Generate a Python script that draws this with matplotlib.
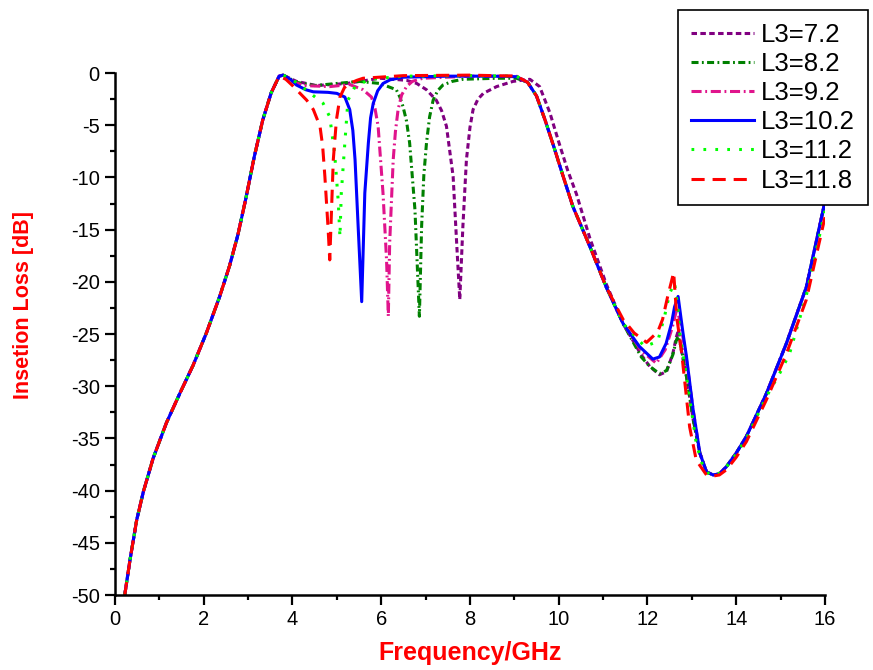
import matplotlib
matplotlib.use("Agg")
import matplotlib.pyplot as plt
from matplotlib.ticker import MultipleLocator

plt.rcParams['font.family'] = ['Liberation Sans', 'DejaVu Sans']
plt.rcParams['axes.unicode_minus'] = False

# lower skirt, same for every L3 value
skirt_f = [0.22, 0.34, 0.49, 0.64, 0.86, 1.16, 1.46, 1.76, 2.06, 2.36, 2.58, 2.77,
           2.95, 3.14, 3.33, 3.52, 3.70]
skirt_db = [-50.0, -46.6, -42.8, -40.1, -36.9, -33.5, -30.7, -28.0, -24.9, -21.4,
            -18.5, -15.5, -12.0, -8.0, -4.5, -1.9, -0.3]

# upper stopband rise shared by 7.2 / 8.2 / 9.2 / 10.2
tail_f = [13.48, 13.62, 13.78, 14.0, 14.23, 14.68, 15.13, 15.58, 16.0]
tail_db = [-38.5, -38.4, -37.7, -36.4, -34.8, -30.7, -25.9, -20.5, -12.3]

# L3 = 7.2
f_72 = [3.79, 4.09, 4.54, 5.22, 5.97, 6.57, 6.80, 7.02, 7.24, 7.36, 7.47, 7.62, 7.70,
        7.77, 7.84, 7.92, 8.00, 8.07, 8.18, 8.30, 8.60, 8.97, 9.35, 9.57, 9.80, 10.0,
        10.2, 10.4, 10.7, 11.07, 11.45, 11.86, 12.05, 12.27, 12.43, 12.57, 12.65, 12.70,
        12.76, 12.88, 13.03, 13.18, 13.33]
db_72 = [-0.2, -0.8, -1.2, -1.0, -0.5, -0.7, -1.0, -1.6, -2.6, -3.6, -5.1, -9.9, -16.3,
         -21.7, -14.7, -8.3, -5.2, -3.5, -2.5, -1.95, -1.3, -0.8, -0.6, -1.3, -3.8, -6.6,
         -9.3, -11.6, -15.8, -20.2, -24.0, -27.0, -28.1, -28.9, -28.6, -26.9, -25.3, -24.6,
         -26.5, -29.1, -33.2, -36.4, -38.2]

# L3 = 8.2
f_82 = [3.79, 4.10, 4.50, 5.00, 5.50, 5.97, 6.34, 6.42, 6.49, 6.57, 6.64, 6.76, 6.86,
        6.91, 6.96, 7.02, 7.09, 7.17, 7.27, 7.39, 7.60, 7.84, 8.60, 9.05, 9.30, 9.50,
        9.70, 9.90, 10.10, 10.32, 10.70, 11.07, 11.45, 11.86, 12.05, 12.27, 12.43, 12.57,
        12.65, 12.69, 12.76, 12.88, 13.03, 13.18, 13.33]
db_82 = [-0.2, -0.9, -1.2, -1.0, -0.8, -1.0, -1.6, -2.3, -3.2, -4.6, -6.7, -13.1, -23.3,
         -14.7, -9.8, -6.7, -4.2, -2.6, -1.7, -1.15, -0.8, -0.6, -0.5, -0.5, -0.9, -2.2,
         -4.6, -7.2, -9.9, -12.8, -16.6, -20.5, -24.0, -27.2, -28.1, -28.8, -28.5, -27.0,
         -25.6, -25.2, -26.3, -29.1, -33.2, -36.4, -38.2]

# L3 = 9.2
f_92 = [3.79, 4.00, 4.25, 4.84, 5.29, 5.59, 5.78, 5.86, 5.93, 6.04, 6.12, 6.16, 6.19,
        6.27, 6.32, 6.38, 6.46, 6.57, 6.70, 6.94, 8.00, 9.05, 9.30, 9.50, 9.70, 9.90,
        10.10, 10.32, 10.70, 11.07, 11.45, 11.86, 12.20, 12.40, 12.55, 12.66, 12.75,
        12.88, 13.03, 13.18, 13.33]
db_92 = [-0.2, -0.8, -1.2, -1.3, -1.1, -1.6, -2.3, -3.4, -5.1, -11.5, -17.9, -23.3, -16.3,
         -8.3, -5.6, -3.5, -2.1, -1.3, -0.8, -0.5, -0.3, -0.3, -0.9, -2.2, -4.6, -7.2,
         -9.9, -12.8, -16.6, -20.5, -24.0, -26.6, -27.8, -26.5, -24.5, -22.6, -24.0,
         -27.5, -32.3, -36.4, -38.2]

# L3 = 10.2
f_102 = [3.79, 3.95, 4.09, 4.30, 4.47, 4.80, 5.00, 5.18, 5.29, 5.36, 5.41, 5.48, 5.56,
         5.63, 5.71, 5.76, 5.82, 5.92, 6.04, 6.20, 6.49, 7.50, 8.50, 9.05, 9.30, 9.50,
         9.70, 9.90, 10.10, 10.32, 10.70, 11.07, 11.45, 11.82, 12.12, 12.27, 12.42, 12.54,
         12.61, 12.69, 12.80, 12.88, 13.03, 13.18, 13.33]
db_102 = [-0.2, -0.6, -1.15, -1.6, -1.8, -1.85, -1.95, -2.3, -3.5, -5.5, -8.3, -14.7,
          -21.9, -11.5, -6.7, -4.3, -2.9, -1.7, -1.0, -0.65, -0.4, -0.3, -0.3, -0.35, -0.9,
          -2.2, -4.6, -7.2, -9.9, -12.8, -16.6, -20.5, -24.0, -26.2, -27.4, -27.2, -25.9,
          -24.0, -22.4, -21.4, -24.9, -27.2, -32.3, -36.4, -38.2]

# L3 = 11.2
f_112 = [3.79, 4.09, 4.39, 4.69, 4.84, 4.95, 5.03, 5.07, 5.10, 5.18, 5.25, 5.41, 5.74,
         6.50, 8.00, 9.05, 9.30, 9.50, 9.70, 9.90, 10.10, 10.32, 10.70, 11.07, 11.45,
         11.94, 12.23, 12.39, 12.50, 12.61, 12.69, 12.73, 12.88, 13.10, 13.25, 13.40,
         13.60, 13.78, 14.0, 14.23, 14.68, 15.00, 15.20, 15.58, 16.0]
db_112 = [-0.2, -0.9, -1.9, -2.9, -4.2, -7.7, -12.2, -15.7, -11.5, -6.7, -2.6, -1.3, -0.6,
          -0.3, -0.25, -0.3, -0.9, -2.2, -4.6, -7.2, -9.9, -12.8, -16.6, -20.5, -24.0,
          -26.2, -25.7, -23.2, -21.1, -20.1, -22.7, -25.0, -29.1, -35.5, -37.7, -38.5,
          -38.4, -37.7, -36.5, -35.0, -31.0, -28.6, -26.9, -21.3, -13.2]

# L3 = 11.8
f_118 = [3.85, 4.00, 4.32, 4.47, 4.62, 4.68, 4.73, 4.80, 4.84, 4.88, 4.92, 4.99, 5.07,
         5.17, 5.29, 5.45, 5.59, 6.50, 8.00, 9.05, 9.30, 9.50, 9.70, 9.90, 10.10, 10.32,
         10.70, 11.07, 11.45, 11.70, 11.98, 12.23, 12.34, 12.45, 12.59, 12.66, 12.77,
         12.95, 13.10, 13.33, 13.48, 13.62, 13.78, 14.0, 14.23, 14.68, 15.13, 15.58, 16.0]
db_118 = [-0.6, -1.2, -2.6, -3.5, -5.1, -7.0, -9.9, -14.7, -17.9, -13.1, -8.3, -4.5, -2.3,
          -1.4, -1.0, -0.7, -0.5, -0.25, -0.2, -0.3, -0.9, -2.2, -4.6, -7.2, -9.9, -12.8,
          -16.6, -20.5, -23.6, -24.9, -25.8, -24.8, -23.6, -21.5, -19.1, -23.4, -26.8,
          -33.9, -37.1, -38.5, -38.6, -38.5, -38.0, -36.8, -35.3, -31.3, -26.9, -21.7,
          -13.8]

labels = ['L3=7.2', 'L3=8.2', 'L3=9.2', 'L3=10.2', 'L3=11.2', 'L3=11.8']
colors = ['#800080', '#008000', '#e0148c', '#0000ff', '#00ff00', '#ff0000']
dash_styles = [(1.8, 1.1), (2.3, 1.1, 0.6, 1.1), (3.3, 1.2, 0.6, 1.2), None, (0.9, 3.0), (4.3, 2.6)]

series = [
    (skirt_f + f_72 + tail_f, skirt_db + db_72 + tail_db),
    (skirt_f + f_82 + tail_f, skirt_db + db_82 + tail_db),
    (skirt_f + f_92 + tail_f, skirt_db + db_92 + tail_db),
    (skirt_f + f_102 + tail_f, skirt_db + db_102 + tail_db),
    (skirt_f + f_112, skirt_db + db_112),
    (skirt_f + f_118, skirt_db + db_118),
]

fig = plt.figure(figsize=(8.73, 6.70), dpi=100)
ax = fig.add_axes([0.1317, 0.1119, 0.8133, 0.7791])

for (fx, fy), lab, col, ds in zip(series, labels, colors, dash_styles):
    line, = ax.plot(fx, fy, color=col, lw=2.2, label=lab)
    if ds is not None:
        line.set_dashes(ds)

ax.set_xlim(0, 16)
ax.set_ylim(-50, 0)
ax.xaxis.set_major_locator(MultipleLocator(2))
ax.xaxis.set_minor_locator(MultipleLocator(1))
ax.yaxis.set_major_locator(MultipleLocator(5))
ax.yaxis.set_minor_locator(MultipleLocator(2.5))

ax.spines['top'].set_visible(False)
ax.spines['right'].set_visible(False)
for s in ['left', 'bottom']:
    ax.spines[s].set_linewidth(1.8)
ax.tick_params(which='major', direction='out', length=7, width=1.6, labelsize=14.5, pad=4)
ax.tick_params(which='minor', direction='out', length=3.6, width=1.6)

ax.set_xlabel('Frequency/GHz', color='red', fontweight='bold', fontsize=18)
ax.xaxis.set_label_coords(0.5, -0.088)
ax.set_ylabel('Insetion Loss [dB]', color='red', fontweight='bold', fontsize=15.5)
ax.yaxis.set_label_coords(-0.114, 0.556)

leg = ax.legend(loc='upper left', bbox_to_anchor=(0.7766, 0.985), bbox_transform=fig.transFigure,
                fontsize=18.5, frameon=True, fancybox=False, framealpha=1, edgecolor='black',
                borderaxespad=0, borderpad=0.5, labelspacing=0.2, handlelength=2.45,
                handletextpad=0.28)
leg.get_frame().set_linewidth(1.2)

fig.savefig('out.png', dpi=100)
